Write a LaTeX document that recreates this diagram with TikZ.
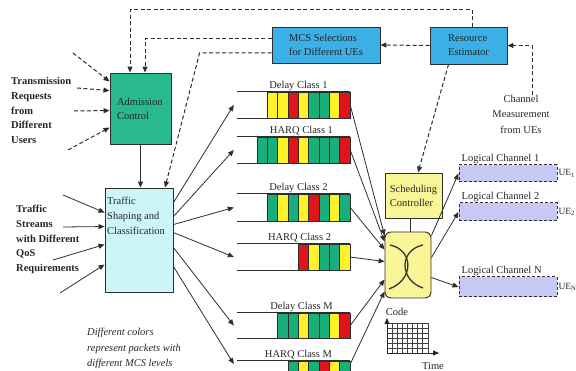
\documentclass[tikz,border=0pt]{standalone}
\usepackage{fontspec}
\setmainfont{Liberation Serif}
\usetikzlibrary{arrows.meta}
\definecolor{admgreen}{RGB}{40,185,140}
\definecolor{qG}{RGB}{25,175,125}
\definecolor{qY}{RGB}{255,242,40}
\definecolor{qR}{RGB}{225,20,30}
\definecolor{tsccyan}{RGB}{205,245,248}
\definecolor{blubox}{RGB}{60,175,230}
\definecolor{ltyellow}{RGB}{250,245,150}
\definecolor{lavender}{RGB}{200,200,245}
\definecolor{ln}{RGB}{45,45,45}
\newcommand{\qcells}[4]{%
  \foreach \c [count=\i] in {#4} {
    \pgfmathsetmacro{\xa}{350-(#3-\i+1)*10.35}
    \pgfmathsetmacro{\xb}{\xa+10.35}
    \filldraw[draw=ln, line width=0.7pt, fill=\c] (\xa,#1) rectangle (\xb,#2);
  }}
\begin{document}
\begin{tikzpicture}[x=1pt,y=-1pt,
  font=\fontsize{10.5}{14}\selectfont, text=black!85,
  box/.style={draw=ln, line width=0.9pt, inner sep=0pt},
  tip/.style={-{Triangle[length=6pt,width=5pt]}},
  dl/.style={draw=ln, line width=1pt, dash pattern=on 4pt off 2.5pt},
  sl/.style={draw=ln, line width=0.8pt},
  qn/.style={inner sep=0pt, minimum width=113pt},
  ql/.style={draw=ln, line width=0.9pt},
  qlab/.style={anchor=south, inner sep=1pt},
  lc/.style={draw=ln, line width=1pt, dash pattern=on 3pt off 2pt, fill=lavender, inner sep=0pt, minimum width=98pt},
  lclab/.style={anchor=south west, inner sep=1pt},
  uelab/.style={anchor=west, inner sep=0pt, xshift=0.8pt, font=\fontsize{9.5}{11}\selectfont},
  boldtxt/.style={anchor=north west, align=left, inner sep=0pt, font=\bfseries\fontsize{10.5}{14.8}\selectfont}
]
\useasboundingbox (0,0) rectangle (576,371);

% ---- main boxes
\node[box, fill=admgreen, minimum width=61pt, minimum height=71pt, text width=47pt, align=left] (adm) at (140.5,108.5) {Admission\\Control};
\node[box, fill=tsccyan, minimum width=68pt, minimum height=104pt] (tsc) at (139,240) {};
\node[anchor=north west, align=left, inner sep=0pt, font=\fontsize{10.5}{15}\selectfont] (tsctxt) at (107,197) {Traffic\\Shaping and\\Classification};
\node[box, fill=blubox, minimum width=108pt, minimum height=36pt, align=left] (mcs) at (326,45) {MCS Selections\\for Different UEs};
\node[box, fill=blubox, minimum width=77pt, minimum height=37pt, align=left] (res) at (468.5,45.5) {Resource\\Estimator};
\node[box, fill=ltyellow, minimum width=57pt, minimum height=45pt, align=left] (sc) at (413.5,195.5) {Scheduling\\Controller};
\node[box, fill=ltyellow, rounded corners=6pt, minimum width=46pt, minimum height=66pt] (sw) at (408,265) {};
\draw[line width=1.3pt, black!80] ([shift={(-18pt,20pt)}]sw.center) .. controls ([shift={(6pt,15pt)}]sw.center) and ([shift={(6pt,-15pt)}]sw.center) .. ([shift={(-19pt,-24pt)}]sw.center);
\draw[line width=1.3pt, black!80] ([shift={(15pt,20pt)}]sw.center) .. controls ([shift={(-9pt,15pt)}]sw.center) and ([shift={(-9pt,-15pt)}]sw.center) .. ([shift={(15pt,-23pt)}]sw.center);

% ---- side texts
\node[boldtxt] (treq) at (11,77) {Transmission\\Requests\\from\\Different\\Users};
\node[boldtxt] (tstr) at (16,205) {Traffic\\Streams\\with Different\\QoS\\Requirements};
\node[align=center, inner sep=0pt, font=\fontsize{10.5}{15.5}\selectfont] (chm) at (521,114) {Channel\\Measurement\\from UEs};
\node[anchor=north west, align=left, inner sep=0pt, font=\itshape\fontsize{10.5}{15.5}\selectfont] (note) at (87,328) {Different colors\\represent packets with\\different MCS levels};

% ---- queues
\node[qn, minimum height=26pt] (q1) at (293.5,105) {};
\node[qn, minimum height=26pt] (q2) at (293.5,150) {};
\node[qn, minimum height=27pt] (q3) at (293.5,207.5) {};
\node[qn, minimum height=26pt] (q4) at (293.5,257) {};
\node[qn, minimum height=25pt] (q5) at (293.5,325.5) {};
\node[qn, minimum height=26pt] (q6) at (293.5,374) {};
\qcells{92}{118}{8}{qY,qY,qR,qY,qG,qG,qY,qR}
\qcells{137}{163}{9}{qG,qG,qY,qR,qY,qG,qG,qG,qR}
\qcells{194}{221}{8}{qG,qY,qG,qY,qR,qG,qY,qG}
\qcells{244}{270}{5}{qR,qY,qG,qG,qY}
\qcells{313}{338}{7}{qG,qG,qY,qG,qG,qY,qR}
\qcells{361}{387}{6}{qG,qY,qG,qR,qY,qG}
\foreach \q in {q1,q2,q3,q4,q5,q6} {
  \draw[ql] (\q.north west) -- (\q.north east);
  \draw[ql] (\q.south west) -- (\q.south east);
}
\node[qlab] (l1) at ([xshift=5pt]q1.north) {Delay Class 1};
\node[qlab] (l2) at ([xshift=8pt]q2.north) {HARQ Class 1};
\node[qlab] (l3) at ([xshift=5pt]q3.north) {Delay Class 2};
\node[qlab] (l4) at ([xshift=6pt]q4.north) {HARQ Class 2};
\node[qlab] (l5) at ([xshift=8pt]q5.north) {Delay Class M};
\node[qlab] (l6) at ([xshift=5pt]q6.north) {HARQ Class M};

% ---- logical channels
\node[lc, minimum height=17pt] (lc1) at (508,173.5) {};
\node[lc, minimum height=18pt] (lc2) at (508,212) {};
\node[lc, minimum height=20pt] (lcn) at (508,287) {};
\node[lclab] (lc1l) at ([xshift=2pt]lc1.north west) {Logical Channel 1};
\node[lclab] (lc2l) at ([xshift=2pt]lc2.north west) {Logical Channel 2};
\node[lclab] (lcnl) at ([xshift=2pt]lcn.north west) {Logical Channel N};
\node[uelab] (ue1) at (lc1.east) {UE\textsubscript{1}};
\node[uelab] (ue2) at (lc2.east) {UE\textsubscript{2}};
\node[uelab] (uen) at (lcn.east) {UE\textsubscript{N}};

% ---- code/time grid
\node[inner sep=0pt] (code) at (397,312) {Code};
\node[inner sep=0pt] (time) at (433,366) {Time};
\coordinate (go) at (387,353);
\coordinate (gtop) at (387,318);
\coordinate (gright) at (439,353);
\foreach \k in {0,...,8} \draw[line width=0.6pt, black!75] (387+\k*5.1,323) -- (387+\k*5.1,353);
\foreach \k in {0,...,6} \draw[line width=0.6pt, black!75] (387,323+\k*5) -- (428,323+\k*5);
\draw[line width=0.9pt, black!85, tip] (go) -- (gtop);
\draw[line width=0.9pt, black!85, tip] (go) -- (gright);

% ---- dashed control connectors
\draw[dl, tip] ([xshift=3.5pt]res.north) -- ++(0,-17) -| ([xshift=-10.5pt]adm.north);
\draw[dl, tip] ([yshift=6pt]mcs.west) -| ([xshift=4.5pt]adm.north);
\draw[dl, tip] ([yshift=-8pt]mcs.west) -- ++(-72,0) -- ([xshift=26pt]tsc.north);
\draw[dl, tip] (res.west) -- (mcs.east);
\draw[dl, tip] ([xshift=11pt]chm.north) |- (res.east);
\draw[dl, tip] ([xshift=-20pt]res.south) -- ([xshift=4.5pt]sc.north);

% ---- admission inputs
\coordinate (ai1) at (73,53);
\coordinate (ai2) at (77,88);
\coordinate (ai3) at (74,111);
\coordinate (ai4) at (68,150);
\draw[dl, tip] (ai1) -- ([yshift=-9pt]adm.north west);
\draw[dl, tip] (ai2) -- ([yshift=-18pt]adm.north west);
\draw[dl, tip] (ai3) -- ([yshift=-38pt]adm.north west);
\draw[dl, tip] (ai4) -- ([yshift=-55pt]adm.north west);

% ---- traffic inputs
\coordinate (ti1) at (63,195);
\coordinate (ti2) at (63,227);
\coordinate (ti3) at (53,260);
\coordinate (ti4) at (60,293);
\draw[sl, tip] (ti1) -- ([yshift=-25pt]tsc.north west);
\draw[sl, tip] (ti2) -- ([yshift=-39pt]tsc.north west);
\draw[sl, tip] (ti3) -- ([yshift=-57pt]tsc.north west);
\draw[sl, tip] (ti4) -- ([yshift=-77pt]tsc.north west);

% ---- admission -> traffic
\draw[sl, tip] (adm.south) -- (adm.south |- tsc.north);

% ---- traffic -> queues
\draw[sl, tip] ([yshift=-15pt]tsc.north east) -- ([xshift=-3pt]q1.west);
\draw[sl, tip] ([yshift=-29pt]tsc.north east) -- ([xshift=-3pt]q2.west);
\draw[sl, tip] ([yshift=-37pt]tsc.north east) -- ([xshift=-3pt]q3.west);
\draw[sl, tip] ([yshift=-45pt]tsc.north east) -- ([xshift=-3pt]q4.west);
\draw[sl, tip] ([yshift=-60pt]tsc.north east) -- ([xshift=-3pt]q5.west);
\draw[sl, tip] ([yshift=-79pt]tsc.north east) -- ([xshift=-3pt,yshift=10pt]q6.west);

% ---- queues -> switch
\draw[sl, tip] (q1.east) -- ([yshift=-4pt]sw.north west);
\draw[sl, tip] (q2.east) -- ([yshift=-10pt]sw.north west);
\draw[sl, tip] (q3.east) -- ([yshift=-18pt]sw.north west);
\draw[sl, tip] (q4.east) -- ([yshift=-30pt]sw.north west);
\draw[sl, tip] (q5.east) -- ([yshift=-48pt]sw.north west);
\draw[sl, tip] ([yshift=10pt]q6.east) -- ([yshift=-60pt]sw.north west);

% ---- controller -> switch
\draw[sl] ([xshift=-3pt]sc.south) -- ([xshift=-3pt]sc.south |- sw.north);

% ---- switch -> logical channels
\draw[sl, tip] ([yshift=-4pt]sw.north east) -- (lc1.west);
\draw[sl, tip] ([yshift=-26pt]sw.north east) -- (lc2.west);
\draw[sl, tip] ([yshift=-46pt]sw.north east) -- (lcn.west);
\end{tikzpicture}
\end{document}
